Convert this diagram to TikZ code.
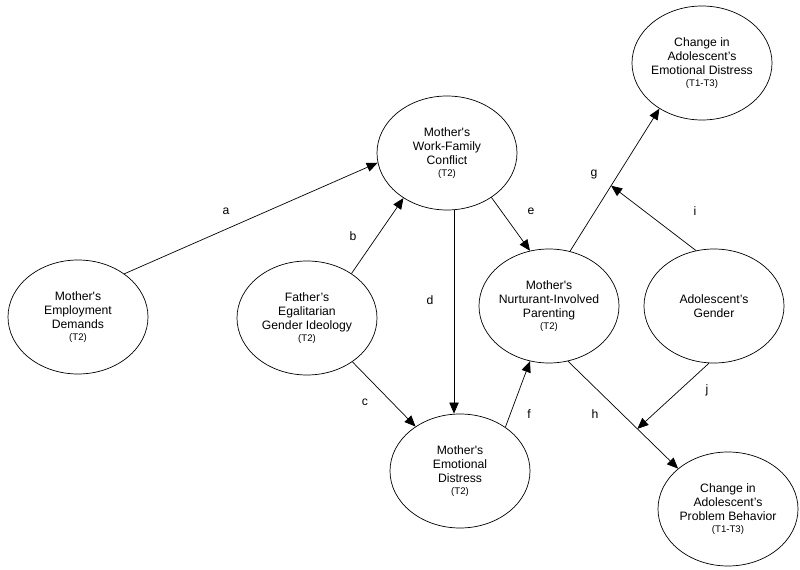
\documentclass[tikz,border=0pt]{standalone}
\usepackage{fontspec}
\setmainfont{Liberation Sans}
\usetikzlibrary{shapes.geometric,arrows.meta,calc}

\tikzset{
    var/.style={draw, ellipse, line width=0.6pt, minimum width=4.2cm, minimum height=3.42cm,
        inner xsep=-1.5mm, inner ysep=0pt, align=center, font=\fontsize{10.4}{12}\selectfont},
    path/.style={->, line width=0.6pt, >={Triangle[length=3.3mm, width=2.8mm]}},
    lbl/.style={font=\fontsize{10.4}{12}\selectfont}
}
\newcommand{\tpt}[1]{\\[-2pt]{\fontsize{8.2}{9.5}\selectfont(#1)}}
\newcommand{\mom}{Mother\textquotesingle s}

\begin{document}
\begin{tikzpicture}[x=0.03cm, y=-0.03cm]
    \useasboundingbox (0,0) rectangle (800,570);
    % Variables
    \node[var] (emp) at (78,317) {\mom\\Employment\\Demands\tpt{T2}};
    \node[var] (fat) at (307,318) {Father's\\Egalitarian\\Gender Ideology\tpt{T2}};
    \node[var] (wfc) at (447,153) {\mom\\Work-Family\\Conflict\tpt{T2}};
    \node[var] (med) at (460,471) {\mom\\Emotional\\Distress\tpt{T2}};
    \node[var] (nip) at (549,306) {\mom\\Nurturant-Involved\\Parenting\tpt{T2}};
    \node[var] (gen) at (714,306) {Adolescent's\\Gender};
    \node[var] (ced) at (702,63) {Change in\\Adolescent's\\Emotional Distress\tpt{T1-T3}};
    \node[var] (cpb) at (728,509) {Change in\\Adolescent's\\Problem Behavior\tpt{T1-T3}};
    % Paths
    \draw[path] (emp.43) -- (wfc.188);
    \draw[path] (fat.45) -- (wfc.226);
    \draw[path] (fat.-44) -- (med.135);
    \draw[path] (wfc.-83) -- (wfc.-83 |- med.north);
    \draw[path] (wfc.-45) -- (nip.109);
    \draw[path] (med.44) -- (nip.251);
    \draw[path] (nip.69) -- (ced.227) coordinate[pos=0.46] (gi);
    \draw[path] (nip.-71) -- (cpb.141) coordinate[pos=0.63] (hj);
    % Moderation by gender
    \draw[path] (gen.108) -- (gi);
    \draw[path] (gen.265) -- (hj);
    % Path labels
    \node[lbl] (la) at (226,211) {a};
    \node[lbl] (lb) at (353,236) {b};
    \node[lbl] (lc) at (365,402) {c};
    \node[lbl] (ld) at (430,300) {d};
    \node[lbl] (le) at (531,211) {e};
    \node[lbl] (lf) at (529,414) {f};
    \node[lbl] (lg) at (594,174) {g};
    \node[lbl] (lh) at (595,414) {h};
    \node[lbl] (li) at (695,211) {i};
    \node[lbl] (lj) at (707,390) {j};
\end{tikzpicture}
\end{document}
